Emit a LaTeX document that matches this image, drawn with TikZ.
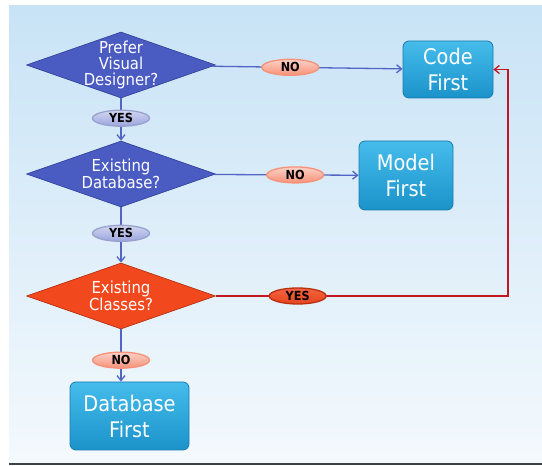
\documentclass[tikz,border=0pt]{standalone}
\usepackage{fontspec}
\setmainfont{DejaVu Sans Condensed}
\usepackage{tikz}
\usetikzlibrary{arrows.meta,shapes.geometric}
\definecolor{bgtop}{HTML}{C8E3F6}
\definecolor{bgmid}{HTML}{E6F2FB}
\definecolor{bgbot}{HTML}{F4F9FD}
\definecolor{bgedge}{HTML}{3C4048}
\definecolor{askc}{HTML}{4A5BC2}
\definecolor{askd}{HTML}{34449E}
\definecolor{redc}{HTML}{F2481E}
\definecolor{redd}{HTML}{B8300F}
\definecolor{boxt}{HTML}{45BCEB}
\definecolor{boxb}{HTML}{1B93CA}
\definecolor{boxd}{HTML}{1A7CAE}
\definecolor{linkc}{HTML}{5265C6}
\definecolor{nolinkc}{HTML}{C3161E}

\begin{document}
\begin{tikzpicture}[
    x=1pt, y=1pt,
    font=\fontsize{16.5}{15.8}\selectfont,
    ask/.style={
      diamond, draw=askd, fill=askc, text=white, align=center,
      minimum width=189pt, minimum height=66pt, inner sep=-16pt,
      line width=0.7pt},
    askred/.style={ask, draw=redd, fill=redc},
    answer/.style={
      draw=boxd, rounded corners=6pt, align=center, text=white,
      top color=boxt, bottom color=boxb, line width=0.8pt,
      font=\fontsize{21.5}{26}\selectfont},
    yeslbl/.style={
      ellipse, draw=askd!50, top color=askc!25, bottom color=askc!55,
      minimum width=57pt, minimum height=16pt, inner sep=0pt,
      text=black, font=\fontsize{12.5}{12}\selectfont\bfseries},
    nolbl/.style={yeslbl, draw=redc!60, top color=redc!25,
      bottom color=redc!60},
    yesredlbl/.style={yeslbl, draw=redd, top color=redc!85,
      bottom color=redc!95!black},
    link/.style={-{Straight Barb[length=5pt,width=8pt]}, linkc,
      line width=1.3pt},
    backlink/.style={link, nolinkc}
  ]

  % --- backdrop
  \useasboundingbox (0,0) rectangle (542,466);
  \fill[white] (0,0) rectangle (542,466);
  \shade[top color=bgtop, middle color=bgmid, bottom color=bgbot]
    (9,3) rectangle (542,460);
  \fill[bgedge] (9,1) rectangle (542,3);

  % --- questions
  \node[ask] (visual) at (121,401) {Prefer\\Visual\\Designer?};
  \node[ask] (dbase) at (121,292) {Existing\\Database?};
  \node[askred] (classes) at (121,170) {Existing\\Classes?};

  % --- answers
  \node[answer, minimum width=90pt, minimum height=57pt]
    (code) at (448,396.5) {Code\\First};
  \node[answer, minimum width=94pt, minimum height=69pt]
    (model) at (406,290.5) {Model\\First};
  \node[answer, minimum width=119pt, minimum height=68pt]
    (dbfirst) at (129.5,50) {Database\\First};

  % --- corner of the return line
  \coordinate (turn) at (508,170);

  % --- flows
  \draw[link] (visual) -- node[nolbl, pos=0.41] (no1) {NO} (code);
  \draw[link] (visual) -- node[yeslbl, pos=0.47] (yes1) {YES} (dbase);
  \draw[link] (dbase) -- node[nolbl, pos=0.56] (no2) {NO} (model);
  \draw[link] (dbase) -- node[yeslbl, pos=0.47] (yes2) {YES} (classes);
  \draw[link] (classes.south) --
    node[nolbl, pos=0.59] (no3) {NO} (classes.south |- dbfirst.north);
  \draw[backlink] (classes.east) --
    node[yesredlbl, pos=0.28] (yes3) {YES} (turn) |- (code.east);

\end{tikzpicture}
\end{document}
